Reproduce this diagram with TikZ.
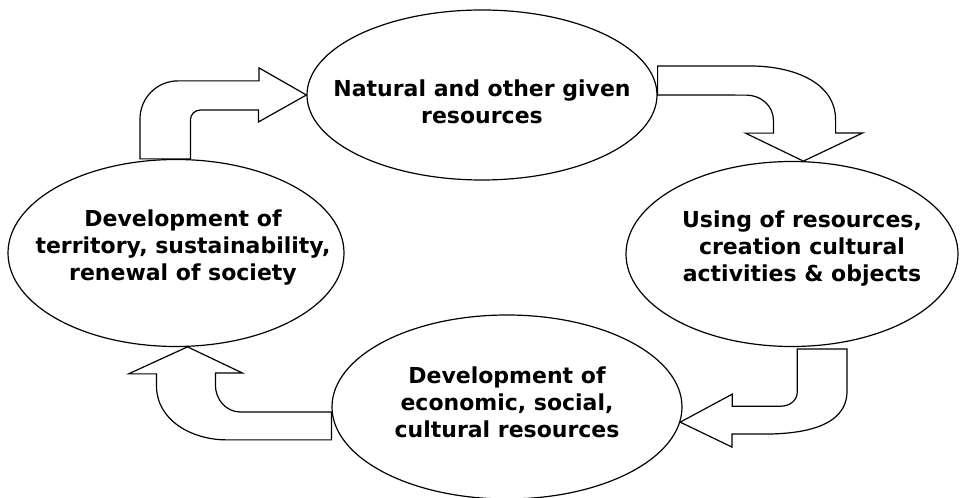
\documentclass[tikz,border=0pt]{standalone}
\usepackage{fontspec}
\setmainfont{DejaVu Sans}
\usetikzlibrary{shapes.geometric}
\begin{document}
\begin{tikzpicture}[x=1pt,y=1pt,line width=1.2pt,
 ell/.style={ellipse,draw,inner sep=0pt},
 txt/.style={align=center,font=\fontsize{22}{27}\selectfont\bfseries},
 barr/.style={draw,fill=white,line join=miter}]
 \useasboundingbox (0,0) rectangle (967,498);
 \path (482,403) node[ell,minimum width=350pt,minimum height=170pt] (top) {}
 -- ++(310,-159) node[ell,minimum width=332pt,minimum height=185pt] (rgt) {}
 -- ++(-285,-153) node[ell,minimum width=350pt,minimum height=184pt] (bot) {}
 -- ++(-331,154) node[ell,minimum width=336pt,minimum height=187pt] (lft) {};
 \node[txt] (top-t) at ([yshift=-7pt]top.center) {Natural and other given\\resources};
 \node[txt] (rgt-t) at ([shift={(10,5)}]rgt.center) {Using of resources,\\creation cultural\\activities \& objects};
 \node[txt] (bot-t) at ([yshift=5pt]bot.center) {Development of\\economic, social,\\cultural resources};
 \node[txt] (lft-t) at ([shift={(7,5)}]lft.center) {Development of\\territory, sustainability,\\renewal of society};
 % lft -> top
 \draw[barr] (lft.north) ++(-36,0) coordinate (a1) -- ++(0,40) to[out=90,in=180] ++(38,38) -- ++(81,0) -- ++(0,13)
  -- (top.west) -- ++(-48,-27) -- ++(0,12) -- ++(-58,0) to[out=180,in=90] ++(-10,-10) |- (a1) -- cycle;
 % top -> rgt
 \draw[barr] (top.east) coordinate (a2) -- ++(0,29) -- ++(93,0) to[out=0,in=90] ++(85,-54) -- ++(0,-13) -- ++(27,0)
  -- (rgt.83) -- ++(-58,28) -- ++(28,0) -- ++(0,13) to[out=90,in=0] ++(-27,25) -- (a2) -- cycle;
 % rgt -> bot
 \draw[barr] (rgt.south) ++(55,-2) coordinate (a3) -- ++(0,-42) to[out=-90,in=0] ++(-84,-43) -- ++(-31,0) -- ++(0,-13)
  -- (bot.-5) -- ++(52,28) -- ++(0,-12) -- ++(49,0) to[out=0,in=-90] ++(16,14) |- (a3) -- cycle;
 % bot -> lft
 \draw[barr] (bot.west) ++(0,-5) coordinate (a4) -- ++(-91,0) to[out=180,in=-90] ++(-25,27) -- ++(0,12) -- ++(27,0)
  -- (lft.-83) -- ++(-59,-27) -- ++(28,0) -- ++(0,-12) to[out=-90,in=180] ++(70,-54) -| (a4) -- cycle;
\end{tikzpicture}
\end{document}
